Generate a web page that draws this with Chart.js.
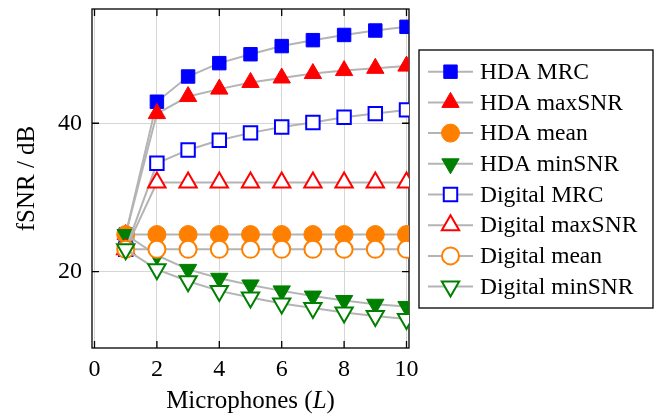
<!DOCTYPE html>
<html>
<head>
<meta charset="utf-8">
<script src="https://cdn.jsdelivr.net/npm/chart.js@4"></script>
<style>
  html, body { margin: 0; padding: 0; background: #fff; }
</style>
</head>
<body>
<canvas id="myChart" width="662" height="417"></canvas>
<script>
// microphones on the x axis
const mics = [1, 2, 3, 4, 5, 6, 7, 8, 9, 10];
const xTicks = [0, 2, 4, 6, 8, 10];
const yTicks = [20, 40];

// fSNR in dB
const hdaMrc = [25, 42.9, 46.3, 48.1, 49.3, 50.4, 51.2, 51.9, 52.5, 53.0];
const hdaMaxSnr = [25, 41.3, 43.6, 44.6, 45.5, 46.1, 46.7, 47.1, 47.4, 47.7];
const hdaMean = [25, 25, 25, 25, 25, 25, 25, 25, 25, 25];
const hdaMinSnr = [25, 22.2, 20.3, 19.1, 18.2, 17.4, 16.7, 16.1, 15.6, 15.3];
const digMrc = [23, 34.6, 36.4, 37.7, 38.7, 39.5, 40.1, 40.8, 41.3, 41.8];
const digMaxSnr = [23, 32, 32, 32, 32, 32, 32, 32, 32, 32];
const digMean = [23, 23, 23, 23, 23, 23, 23, 23, 23, 23];
const digMinSnr = [23, 20.3, 18.7, 17.4, 16.5, 15.7, 15.1, 14.5, 14.0, 13.6];

const serif = 'Liberation Serif';
const lineGray = '#b4b4b4';

function series(label, values, color, style, filled, rotation, radius) {
  return {
    label: label,
    data: values.map((v, i) => ({ x: mics[i], y: v })),
    borderColor: lineGray,
    borderWidth: 2,
    pointStyle: style,
    pointRotation: rotation,
    pointRadius: radius,
    pointHoverRadius: radius,
    pointBackgroundColor: filled ? color : '#fff',
    pointBorderColor: color,
    pointBorderWidth: filled ? 1 : 2,
    tension: 0,
  };
}

const datasets = [
  series('HDA MRC', hdaMrc, '#0000ff', 'rect', true, 0, 9.5),
  series('HDA maxSNR', hdaMaxSnr, '#ff0000', 'triangle', true, 0, 10),
  series('HDA mean', hdaMean, '#ff8000', 'circle', true, 0, 9),
  series('HDA minSNR', hdaMinSnr, '#008000', 'triangle', true, 180, 10),
  series('Digital MRC', digMrc, '#0000ff', 'rect', false, 0, 9.5),
  series('Digital maxSNR', digMaxSnr, '#ff0000', 'triangle', false, 0, 10),
  series('Digital mean', digMean, '#ff8000', 'circle', false, 0, 8.5),
  series('Digital minSNR', digMinSnr, '#008000', 'triangle', false, 180, 10),
];
// later series on top, like the original
datasets.forEach((d, i) => { d.order = datasets.length - i; });

// axis frame with inward ticks (drawn under the marks)
const framePlugin = {
  id: 'frame',
  beforeDatasetsDraw(chart) {
    const { ctx, chartArea: a, scales } = chart;
    ctx.save();
    ctx.strokeStyle = '#000';
    ctx.lineWidth = 1.3;
    ctx.beginPath();
    xTicks.forEach(v => {
      const x = scales.x.getPixelForValue(v);
      ctx.moveTo(x, a.bottom); ctx.lineTo(x, a.bottom - 7);
      ctx.moveTo(x, a.top); ctx.lineTo(x, a.top + 7);
    });
    yTicks.forEach(v => {
      const y = scales.y.getPixelForValue(v);
      ctx.moveTo(a.left, y); ctx.lineTo(a.left + 7, y);
      ctx.moveTo(a.right, y); ctx.lineTo(a.right - 7, y);
    });
    ctx.stroke();
    ctx.strokeRect(a.left, a.top, a.right - a.left, a.bottom - a.top);
    ctx.restore();
  },
};

// axis titles (x title has an italic L)
const titlePlugin = {
  id: 'titles',
  afterDraw(chart) {
    const { ctx, chartArea: a } = chart;
    ctx.save();
    ctx.fillStyle = '#000';
    ctx.textBaseline = 'middle';
    const up = '25px "' + serif + '"';
    const it = 'italic 25px "' + serif + '"';
    const parts = [['Microphones (', up], ['L', it], [')', up]];
    let w = 0;
    parts.forEach(p => { ctx.font = p[1]; w += ctx.measureText(p[0]).width; });
    let x = (a.left + a.right) / 2 - w / 2;
    ctx.textAlign = 'left';
    parts.forEach(p => {
      ctx.font = p[1];
      ctx.fillText(p[0], x, 401);
      x += ctx.measureText(p[0]).width;
    });
    ctx.translate(27, (a.top + a.bottom) / 2);
    ctx.rotate(-Math.PI / 2);
    ctx.font = up;
    ctx.textAlign = 'center';
    ctx.fillText('fSNR / dB', 0, 0);
    ctx.restore();
  },
};

// legend box with line + marker samples
const legendPlugin = {
  id: 'boxLegend',
  afterDraw(chart) {
    const { ctx } = chart;
    const box = { x: 419, y: 50, w: 234, h: 258 };
    ctx.save();
    ctx.fillStyle = '#fff';
    ctx.fillRect(box.x, box.y, box.w, box.h);
    ctx.strokeStyle = '#000';
    ctx.lineWidth = 1.3;
    ctx.strokeRect(box.x, box.y, box.w, box.h);
    datasets.forEach((d, i) => {
      const y = 71.7 + i * 30.7;
      ctx.strokeStyle = lineGray;
      ctx.lineWidth = 2;
      ctx.beginPath();
      ctx.moveTo(428, y); ctx.lineTo(473, y);
      ctx.stroke();
      ctx.fillStyle = d.pointBackgroundColor;
      ctx.strokeStyle = d.pointBorderColor;
      ctx.lineWidth = d.pointBorderWidth;
      Chart.helpers.drawPoint(ctx, {
        pointStyle: d.pointStyle,
        radius: d.pointRadius,
        rotation: d.pointRotation,
        borderWidth: d.pointBorderWidth,
      }, 450.5, y);
      ctx.fillStyle = '#000';
      ctx.font = '23.5px "' + serif + '"';
      ctx.textAlign = 'left';
      ctx.textBaseline = 'middle';
      ctx.fillText(d.label, 480, y + 1);
    });
    ctx.restore();
  },
};

const ctx = document.getElementById('myChart');

new Chart(ctx, {
  type: 'line',
  data: { datasets: datasets },
  options: {
    responsive: false,
    animation: false,
    layout: { autoPadding: false, padding: { top: 9, right: 253, left: 0, bottom: 0 } },
    plugins: {
      legend: { display: false },
      tooltip: { enabled: false },
    },
    scales: {
      x: {
        type: 'linear',
        min: -0.08,
        max: 10.08,
        afterBuildTicks: s => { s.ticks = xTicks.map(v => ({ value: v })); },
        afterFit: s => { s.height = 69; s.paddingLeft = 0; s.paddingRight = 0; },
        grid: { color: '#d6d6d6', lineWidth: 1, drawTicks: false },
        border: { display: false },
        ticks: {
          padding: 7,
          color: '#000',
          maxRotation: 0,
          font: { family: serif, size: 24 },
        },
      },
      y: {
        min: 9.7,
        max: 55.4,
        afterBuildTicks: s => { s.ticks = yTicks.map(v => ({ value: v })); },
        afterFit: s => { s.width = 92; s.paddingTop = 0; s.paddingBottom = 0; },
        grid: { color: '#d6d6d6', lineWidth: 1, drawTicks: false },
        border: { display: false },
        ticks: {
          padding: 10,
          color: '#000',
          font: { family: serif, size: 24 },
        },
      },
    },
  },
  plugins: [framePlugin, titlePlugin, legendPlugin],
});
</script>
</body>
</html>
